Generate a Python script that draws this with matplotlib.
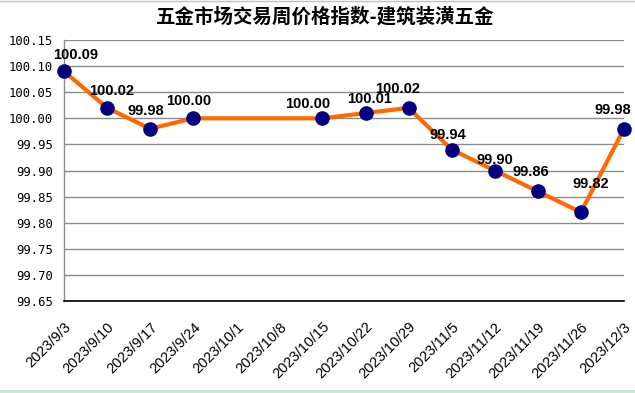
import numpy as np
import matplotlib
matplotlib.use("Agg")
import matplotlib.pyplot as plt
import matplotlib.transforms as mtransforms
from matplotlib.patches import Rectangle
from matplotlib.lines import Line2D

title = "五金市场交易周价格指数-建筑装潢五金"
dates = ["2023/9/3", "2023/9/10", "2023/9/17", "2023/9/24", "2023/10/1",
         "2023/10/8", "2023/10/15", "2023/10/22", "2023/10/29", "2023/11/5",
         "2023/11/12", "2023/11/19", "2023/11/26", "2023/12/3"]
values = [100.09, 100.02, 99.98, 100.00, np.nan, np.nan, 100.00, 100.01,
          100.02, 99.94, 99.90, 99.86, 99.82, 99.98]
y_ticks = [99.65, 99.70, 99.75, 99.80, 99.85, 99.90, 99.95,
           100.00, 100.05, 100.10, 100.15]

# label offsets in pixels (dx, dy) relative to each point
label_offsets = [(12, 16), (5, 17), (-4, 18), (-5, 17), (0, 0), (0, 0),
                 (-15, 14), (4, 14), (-11, 19), (-4, 15), (0, 11), (-7, 19),
                 (10, 28), (-11, 19)]

W, H = 635, 393
fig = plt.figure(figsize=(W / 100, H / 100), dpi=100)
fig.patch.set_facecolor("white")

ax = fig.add_axes([64 / W, 1 - 301 / H, (624 - 64) / W, (301 - 40) / H])
x = np.arange(len(dates))
vals = np.array(values, dtype=float)
mask = ~np.isnan(vals)

ax.plot(x[mask], vals[mask], color="#FF6A00", lw=3.0, zorder=3,
        solid_joinstyle="round", clip_on=False)
ax.plot(x[mask], vals[mask], ls="none", marker="o", ms=9.5,
        mfc="#000080", mec="#000080", zorder=4, clip_on=False)

ax.set_xlim(0, len(dates) - 1)
ax.set_ylim(y_ticks[0], y_ticks[-1])
ax.set_yticks(y_ticks)
ax.set_yticklabels([f"{v:.2f}" for v in y_ticks], family="DejaVu Sans Mono",
                   fontsize=8.8, color="black")
ax.set_xticks(x)
ax.set_xticklabels(dates, rotation=45, ha="right", va="center",
                   rotation_mode="anchor", family="Liberation Sans",
                   fontsize=10.5, color="black")
ax.tick_params(axis="x", length=0, pad=17)
ax.tick_params(axis="y", length=0, pad=8)
shift = mtransforms.ScaledTranslation(5 / 100, 0, fig.dpi_scale_trans)
for lbl in ax.get_xticklabels():
    lbl.set_transform(lbl.get_transform() + shift)

ax.grid(axis="y", color="#8c8c8c", lw=1)
ax.set_axisbelow(True)
for s in ["top", "right"]:
    ax.spines[s].set_visible(False)
ax.spines["left"].set_color("#8c8c8c")
ax.spines["left"].set_linewidth(1)
ax.spines["bottom"].set_color("black")
ax.spines["bottom"].set_linewidth(1.2)
ax.spines["bottom"].set_zorder(5)

for xi, v, (dx, dy) in zip(x, vals, label_offsets):
    if np.isnan(v):
        continue
    ax.annotate(f"{v:.2f}", (xi, v), xytext=(dx * 0.72, dy * 0.72),
                textcoords="offset points", ha="center", va="center",
                family="Liberation Sans", fontweight="bold", fontsize=10.5,
                color="black", zorder=6, annotation_clip=False)

fig.text(325 / W, 1 - 17 / H, title, ha="center", va="center",
         family=["Noto Sans CJK SC", "DejaVu Sans"], fontweight="bold",
         fontsize=14, color="black")

# bottom green strip and top border line
fig.patches.append(Rectangle((0, 0), 1, 3.5 / H, transform=fig.transFigure,
                             facecolor="#d0e8d0", edgecolor="none"))
fig.lines.append(Line2D([0, 1], [1 - 0.5 / H, 1 - 0.5 / H],
                        transform=fig.transFigure, color="#c0c0c0", lw=1))

fig.savefig("out.png", dpi=100)
